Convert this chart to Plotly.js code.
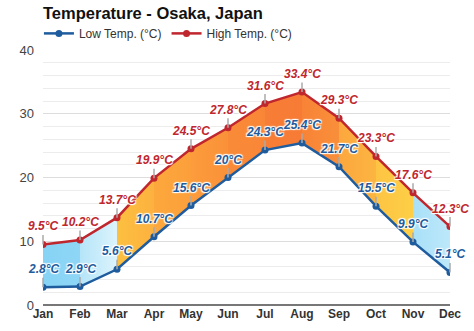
<!DOCTYPE html>
<html>
<head>
<meta charset="utf-8">
<script src="https://cdn.plot.ly/plotly-3.0.1.min.js"></script>
<style>html,body{margin:0;padding:0;background:#fff;}#chart{width:474px;height:331px;}</style>
</head>
<body>
<div id="chart"></div>
<script>
const months = ["Jan","Feb","Mar","Apr","May","Jun","Jul","Aug","Sep","Oct","Nov","Dec"];
const lowTemp = [2.8, 2.9, 5.6, 10.7, 15.6, 20, 24.3, 25.4, 21.7, 15.5, 9.9, 5.1];
const highTemp = [9.5, 10.2, 13.7, 19.9, 24.5, 27.8, 31.6, 33.4, 29.3, 23.3, 17.6, 12.3];
const bandStart = ["#86d3f5","#b5e5f9","#fcc040","#fca83c","#fc9c3b","#f98b38","#f77e36","#f88336","#fca73e","#fdc443","#a8e0f8"];
const bandEnd   = ["#8fd6f6","#dcf3fc","#fdb13f","#fc9f3b","#fa9139","#f98637","#f77b35","#f98f3a","#fcb541","#fdcf46","#bde8fa"];

const idx = months.map((m, i) => i);
const traces = [];
for (let i = 0; i < months.length - 1; i++) {
  traces.push({
    type: "scatter", mode: "lines",
    x: [idx[i], idx[i+1], idx[i+1], idx[i], idx[i]],
    y: [highTemp[i], highTemp[i+1], lowTemp[i+1], lowTemp[i], highTemp[i]],
    fill: "toself",
    fillcolor: bandStart[i],
    fillgradient: {type: "horizontal", colorscale: [[0, bandStart[i]], [1, bandEnd[i]]]},
    line: {width: 0},
    showlegend: false, hoverinfo: "skip"
  });
}
traces.push({
  type: "scatter", mode: "lines+markers", name: "Low Temp. (°C)",
  x: idx, y: lowTemp,
  line: {color: "#1f5c9e", width: 2.5},
  marker: {color: "#1f5c9e", size: 7},
  hoverinfo: "skip"
});
traces.push({
  type: "scatter", mode: "lines+markers", name: "High Temp. (°C)",
  x: idx, y: highTemp,
  line: {color: "#c0262d", width: 2.5},
  marker: {color: "#c0262d", size: 7},
  hoverinfo: "skip"
});

const halo = "1px 1px 1px #fff, -1px -1px 1px #fff, 1px -1px 1px #fff, -1px 1px 1px #fff";
function mkAnn(vals, color) {
  return vals.map((v, i) => ({
    x: idx[i], y: v, xref: "x", yref: "y",
    text: v + "°C",
    showarrow: true, arrowhead: 0, arrowwidth: 1.5, arrowcolor: "#aaaaaa",
    ax: 0, ay: -18,
    font: {family: "Arial, Liberation Sans, sans-serif", size: 12, color: color, weight: "bold", style: "italic", shadow: halo}
  }));
}
const annotations = mkAnn(lowTemp, "#1f5c9e").concat(mkAnn(highTemp, "#c0262d"));

const layout = {
  width: 474, height: 331,
  margin: {l: 43, r: 24, t: 50, b: 26},
  paper_bgcolor: "#fff", plot_bgcolor: "#fff",
  font: {family: "Arial, Liberation Sans, sans-serif", color: "#333"},
  title: {
    text: "<b>Temperature - Osaka, Japan</b>",
    font: {size: 16.5, color: "#111"},
    x: 0, xref: "paper", xanchor: "left",
    y: 1 - 13/331, yref: "container", yanchor: "middle"
  },
  showlegend: true,
  legend: {orientation: "h", x: -0.01, xanchor: "left", y: 1.122, yanchor: "top",
           font: {size: 12, color: "#333"}, bgcolor: "rgba(0,0,0,0)", itemwidth: 30},
  xaxis: {
    range: [0, 11], tickmode: "array", tickvals: idx, ticktext: months.map(m => "<b>" + m + "</b>"),
    showgrid: false, zeroline: false, showline: false, ticks: "",
    tickfont: {size: 12, color: "#333"}, fixedrange: true
  },
  yaxis: {
    range: [0, 40], dtick: 10, showgrid: true, gridcolor: "#dddddd", gridwidth: 1,
    minor: {dtick: 2, showgrid: true, gridcolor: "#ececec", gridwidth: 1},
    zeroline: true, zerolinecolor: "#777777", zerolinewidth: 2.5,
    ticks: "", tickfont: {size: 13, color: "#444"}, ticklabelstandoff: 8, fixedrange: true
  },
  annotations: annotations
};

Plotly.newPlot("chart", traces, layout, {staticPlot: true, displayModeBar: false});
</script>
</body>
</html>
